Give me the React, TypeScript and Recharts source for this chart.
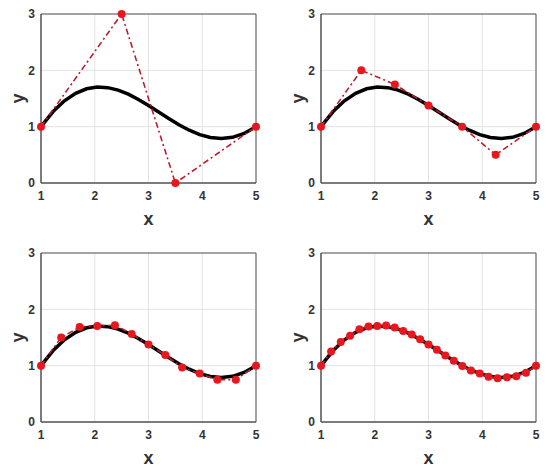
import React from "react";
import { LineChart, Line, XAxis, YAxis, CartesianGrid, ReferenceArea } from "recharts";

const xTicks = [1, 2, 3, 4, 5];
const yTicks = [0, 1, 2, 3];

// Black reference curve
const curveX = [1, 1.221, 1.436, 1.645, 1.848, 2.047, 2.242, 2.434, 2.624, 2.812, 3, 3.188, 3.376, 3.566, 3.758, 3.953, 4.152, 4.355, 4.564, 4.779, 5];
const curveY = [1, 1.264, 1.459, 1.593, 1.672, 1.703, 1.693, 1.648, 1.576, 1.483, 1.375, 1.26, 1.144, 1.034, 0.937, 0.859, 0.808, 0.79, 0.811, 0.879, 1];

// Red control polygons for each panel
const poly1X = [1, 2.5, 3.5, 5];
const poly1Y = [1, 3, 0, 1];

const poly2X = [1, 1.75, 2.375, 3, 3.625, 4.25, 5];
const poly2Y = [1, 2, 1.75, 1.375, 1, 0.5, 1];

const poly3X = [1, 1.375, 1.719, 2.047, 2.375, 2.688, 3, 3.313, 3.625, 3.953, 4.281, 4.625, 5];
const poly3Y = [1, 1.5, 1.688, 1.703, 1.719, 1.563, 1.375, 1.188, 0.969, 0.859, 0.75, 0.75, 1];

const poly4X = [1, 1.188, 1.367, 1.541, 1.715, 1.883, 2.047, 2.211, 2.371, 2.529, 2.688, 2.844, 3, 3.156, 3.313, 3.471, 3.629, 3.789, 3.953, 4.117, 4.285, 4.459, 4.633, 4.813, 5];
const poly4Y = [1, 1.25, 1.422, 1.533, 1.645, 1.695, 1.703, 1.711, 1.676, 1.615, 1.555, 1.469, 1.375, 1.281, 1.18, 1.088, 0.996, 0.914, 0.859, 0.805, 0.777, 0.795, 0.813, 0.875, 1];

const toRows = (xs: number[], ys: number[]) => xs.map((x, i) => ({ x, y: ys[i] }));

const curve = toRows(curveX, curveY);

const tickStyle = { fontFamily: "Arial, 'Liberation Sans', sans-serif", fontSize: 12, fontWeight: 700, fill: "#333" };
const labelFont = "Arial, 'Liberation Sans', sans-serif";

const XLabel = (props: any) => {
  const vb = props.viewBox;
  const cx = vb.x + vb.width / 2;
  const cy = vb.y + 36;
  return (
    <text x={cx} y={cy} textAnchor="middle" dominantBaseline="central" fontFamily={labelFont} fontSize={18} fontWeight={700} fill="#333">
      x
    </text>
  );
};

const YLabel = (props: any) => {
  const vb = props.viewBox;
  const cx = vb.x + 18;
  const cy = vb.y + vb.height / 2;
  return (
    <text x={cx} y={cy} transform={`rotate(-90 ${cx} ${cy})`} textAnchor="middle" dominantBaseline="central" fontFamily={labelFont} fontSize={18} fontWeight={700} fill="#333">
      y
    </text>
  );
};

type PanelProps = { left: number; top: number; width: number; marginTop: number; marginRight: number; xAxisH: number; poly: { x: number; y: number }[] };

const Panel = ({ left, top, width, marginTop, marginRight, xAxisH, poly }: PanelProps) => (
  <div style={{ position: "absolute", left, top }}>
    <LineChart width={width} height={238} margin={{ top: marginTop, right: marginRight, left: 0, bottom: 0 }}>
      <CartesianGrid stroke="#e3e3e3" strokeWidth={1} />
      <XAxis
        type="number"
        dataKey="x"
        domain={[1, 5]}
        ticks={xTicks}
        height={xAxisH}
        tick={tickStyle}
        tickLine={false}
        axisLine={{ stroke: "#555" }}
        label={<XLabel />}
      />
      <YAxis
        type="number"
        dataKey="y"
        domain={[0, 3]}
        ticks={yTicks}
        width={41}
        tick={tickStyle}
        tickLine={false}
        tickMargin={0}
        axisLine={{ stroke: "#555" }}
        label={<YLabel />}
      />
      <ReferenceArea x1={1} x2={5} y1={0} y2={3} fill="none" stroke="#555" strokeWidth={1} />
      <Line data={curve} dataKey="y" type="linear" stroke="#000" strokeWidth={3.5} dot={false} isAnimationActive={false} />
      <Line
        data={poly}
        dataKey="y"
        type="linear"
        stroke="#b5202e"
        strokeWidth={1.6}
        strokeDasharray="6 3 2 3"
        dot={{ r: 4, fill: "#e8161e", stroke: "#e8161e", strokeWidth: 0, strokeDasharray: "" }}
        isAnimationActive={false}
      />
    </LineChart>
  </div>
);

export default function App() {
  return (
    <div style={{ position: "absolute", left: 0, top: 0, width: 550, height: 476, background: "#fff", overflow: "hidden" }}>
      <Panel left={0} top={0} width={275} marginTop={14} marginRight={19} xAxisH={55} poly={toRows(poly1X, poly1Y)} />
      <Panel left={280} top={0} width={270} marginTop={14} marginRight={14} xAxisH={55} poly={toRows(poly2X, poly2Y)} />
      <Panel left={0} top={238} width={275} marginTop={15} marginRight={19} xAxisH={54} poly={toRows(poly3X, poly3Y)} />
      <Panel left={280} top={238} width={270} marginTop={15} marginRight={14} xAxisH={54} poly={toRows(poly4X, poly4Y)} />
    </div>
  );
}
